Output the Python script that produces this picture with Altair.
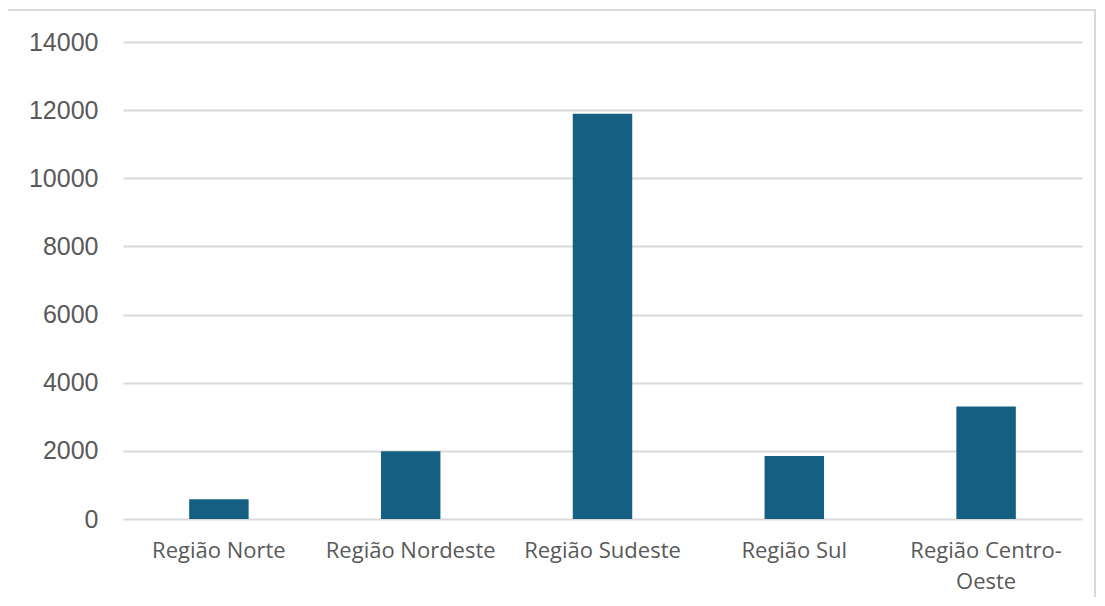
import altair as alt
import pandas as pd

regions = ["Região Norte", "Região Nordeste", "Região Sudeste", "Região Sul", "Região Centro-Oeste"]
values = [580, 1990, 11895, 1850, 3300]
y_ticks = [0, 2000, 4000, 6000, 8000, 10000, 12000, 14000]

df = pd.DataFrame({"regiao": regions, "valor": values})

W, H = 959, 477

bars = alt.Chart(df).mark_bar(color="#156082", width=alt.RelativeBandSize(0.31)).encode(
    x=alt.X("regiao:N", sort=regions, title=None,
            scale=alt.Scale(paddingInner=0, paddingOuter=0),
            axis=alt.Axis(labelAngle=0, ticks=False, domain=False, labelPadding=21,
                          labelFont="Open Sans", labelFontSize=22, labelColor="#595959",
                          labelLineHeight=31, labelBaseline="top",
                          labelExpr="datum.label == 'Região Centro-Oeste' ? ['Região Centro-', 'Oeste'] : datum.label")),
    y=alt.Y("valor:Q", title=None,
            scale=alt.Scale(domain=[0, 14000], nice=False),
            axis=alt.Axis(values=y_ticks, format="d", ticks=False, domain=False, labelPadding=25,
                          labelFont="Liberation Sans", labelFontSize=25, labelColor="#595959",
                          gridColor="#d9d9d9", gridWidth=2)),
)

frame = alt.Chart(pd.DataFrame({"a": [0]})).mark_rect(
    fill=None, stroke="#d9d9d9", strokeWidth=2
).encode(
    x=alt.value(-116), x2=alt.value(972), y=alt.value(-32), y2=alt.value(600)
)

chart = alt.layer(bars, frame).properties(
    width=W, height=H,
    autosize=alt.AutoSizeParams(type="none"),
    padding={"left": 115, "top": 34, "right": 14, "bottom": 78},
).configure_view(stroke=None)

chart.save("out.html", embed_options={"renderer": "svg", "actions": False})
